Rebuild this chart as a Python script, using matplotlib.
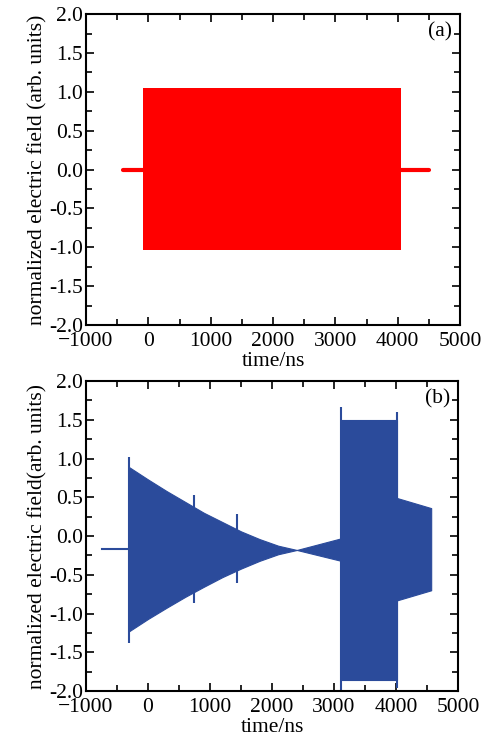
import numpy as np
import matplotlib.pyplot as plt
from matplotlib.ticker import MultipleLocator

plt.rcParams['font.family'] = ['Liberation Serif', 'DejaVu Serif']
plt.rcParams['font.size'] = 15.5

# panel (a): envelope of the red pulse
a_t = [-92, 4047]
a_up = [1.05, 1.05]
a_lo = [-1.04, -1.04]
a_flat_left = [-413, -92]
a_flat_right = [4047, 4506]

# panel (b): envelope pieces of the blue signal
b_flat_t = [-743, -307]
b_flat_y = -0.17
b_t1 = [-307, 0, 300, 600, 900, 1200, 1500, 1800, 2100, 2400, 3113]
b_up1 = [0.89, 0.73, 0.58, 0.44, 0.30, 0.18, 0.06, -0.04, -0.125, -0.18, -0.03]
b_lo1 = [-1.23, -1.07, -0.925, -0.785, -0.655, -0.53, -0.42, -0.32, -0.235, -0.18, -0.32]
b_t2 = [3113, 4018]
b_up2 = [1.50, 1.50]
b_lo2 = [-1.86, -1.86]
b_t3 = [4018, 4567]
b_up3 = [0.49, 0.36]
b_lo3 = [-0.83, -0.70]
# short spikes
spike_t = [-307, 740, 1432, 3113, 4018]
spike_top = [1.015, 0.53, 0.28, 1.66, 1.60]
spike_bot = [-1.385, -0.86, -0.61, -1.99, -1.96]

red = '#ff0000'
blue = '#2b4b9b'

fig = plt.figure(figsize=(4.87, 7.42), dpi=100)
ax1 = fig.add_axes([0.1766, 0.562, 0.768, 0.419])
ax2 = fig.add_axes([0.1766, 0.0687, 0.7639, 0.4178])

# (a)
ax1.fill_between(a_t, a_lo, a_up, color=red, lw=0)
ax1.plot(a_flat_left, [0, 0], color=red, lw=3, solid_capstyle='round')
ax1.plot(a_flat_right, [0, 0], color=red, lw=3, solid_capstyle='round')
ax1.set_ylabel('normalized electric field (arb. units)', labelpad=1)
ax1.text(0.979, 0.942, '(a)', transform=ax1.transAxes, ha='right', va='center')

# (b)
ax2.plot(b_flat_t, [b_flat_y, b_flat_y], color=blue, lw=1.5)
ax2.fill_between(b_t1, b_lo1, b_up1, color=blue, lw=0.8, ec=blue)
ax2.fill_between(b_t2, b_lo2, b_up2, color=blue, lw=0.8, ec=blue)
ax2.fill_between(b_t3, b_lo3, b_up3, color=blue, lw=0.8, ec=blue)
ax2.vlines(spike_t, spike_bot, spike_top, color=blue, lw=1.5)
ax2.set_ylabel('normalized electric field(arb. units)', labelpad=1)
ax2.text(0.979, 0.942, '(b)', transform=ax2.transAxes, ha='right', va='center')

for ax in (ax1, ax2):
    ax.set_xlim(-1000, 5000)
    ax.set_ylim(-2.0, 2.0)
    ax.xaxis.set_major_locator(MultipleLocator(1000))
    ax.xaxis.set_minor_locator(MultipleLocator(500))
    ax.yaxis.set_major_locator(MultipleLocator(0.5))
    ax.yaxis.set_minor_locator(MultipleLocator(0.25))
    ax.yaxis.set_major_formatter(plt.FormatStrFormatter('%.1f'))
    ax.tick_params(which='both', direction='in', top=True, right=True, width=1.2)
    ax.tick_params(which='major', length=6)
    ax.tick_params(axis='x', which='major', pad=5)
    ax.tick_params(axis='y', which='major', pad=2)
    ax.tick_params(which='minor', length=4)
    for s in ax.spines.values():
        s.set_linewidth(1.5)
    ax.set_xlabel('time/ns', labelpad=1)

fig.savefig('out.png', dpi=100)
